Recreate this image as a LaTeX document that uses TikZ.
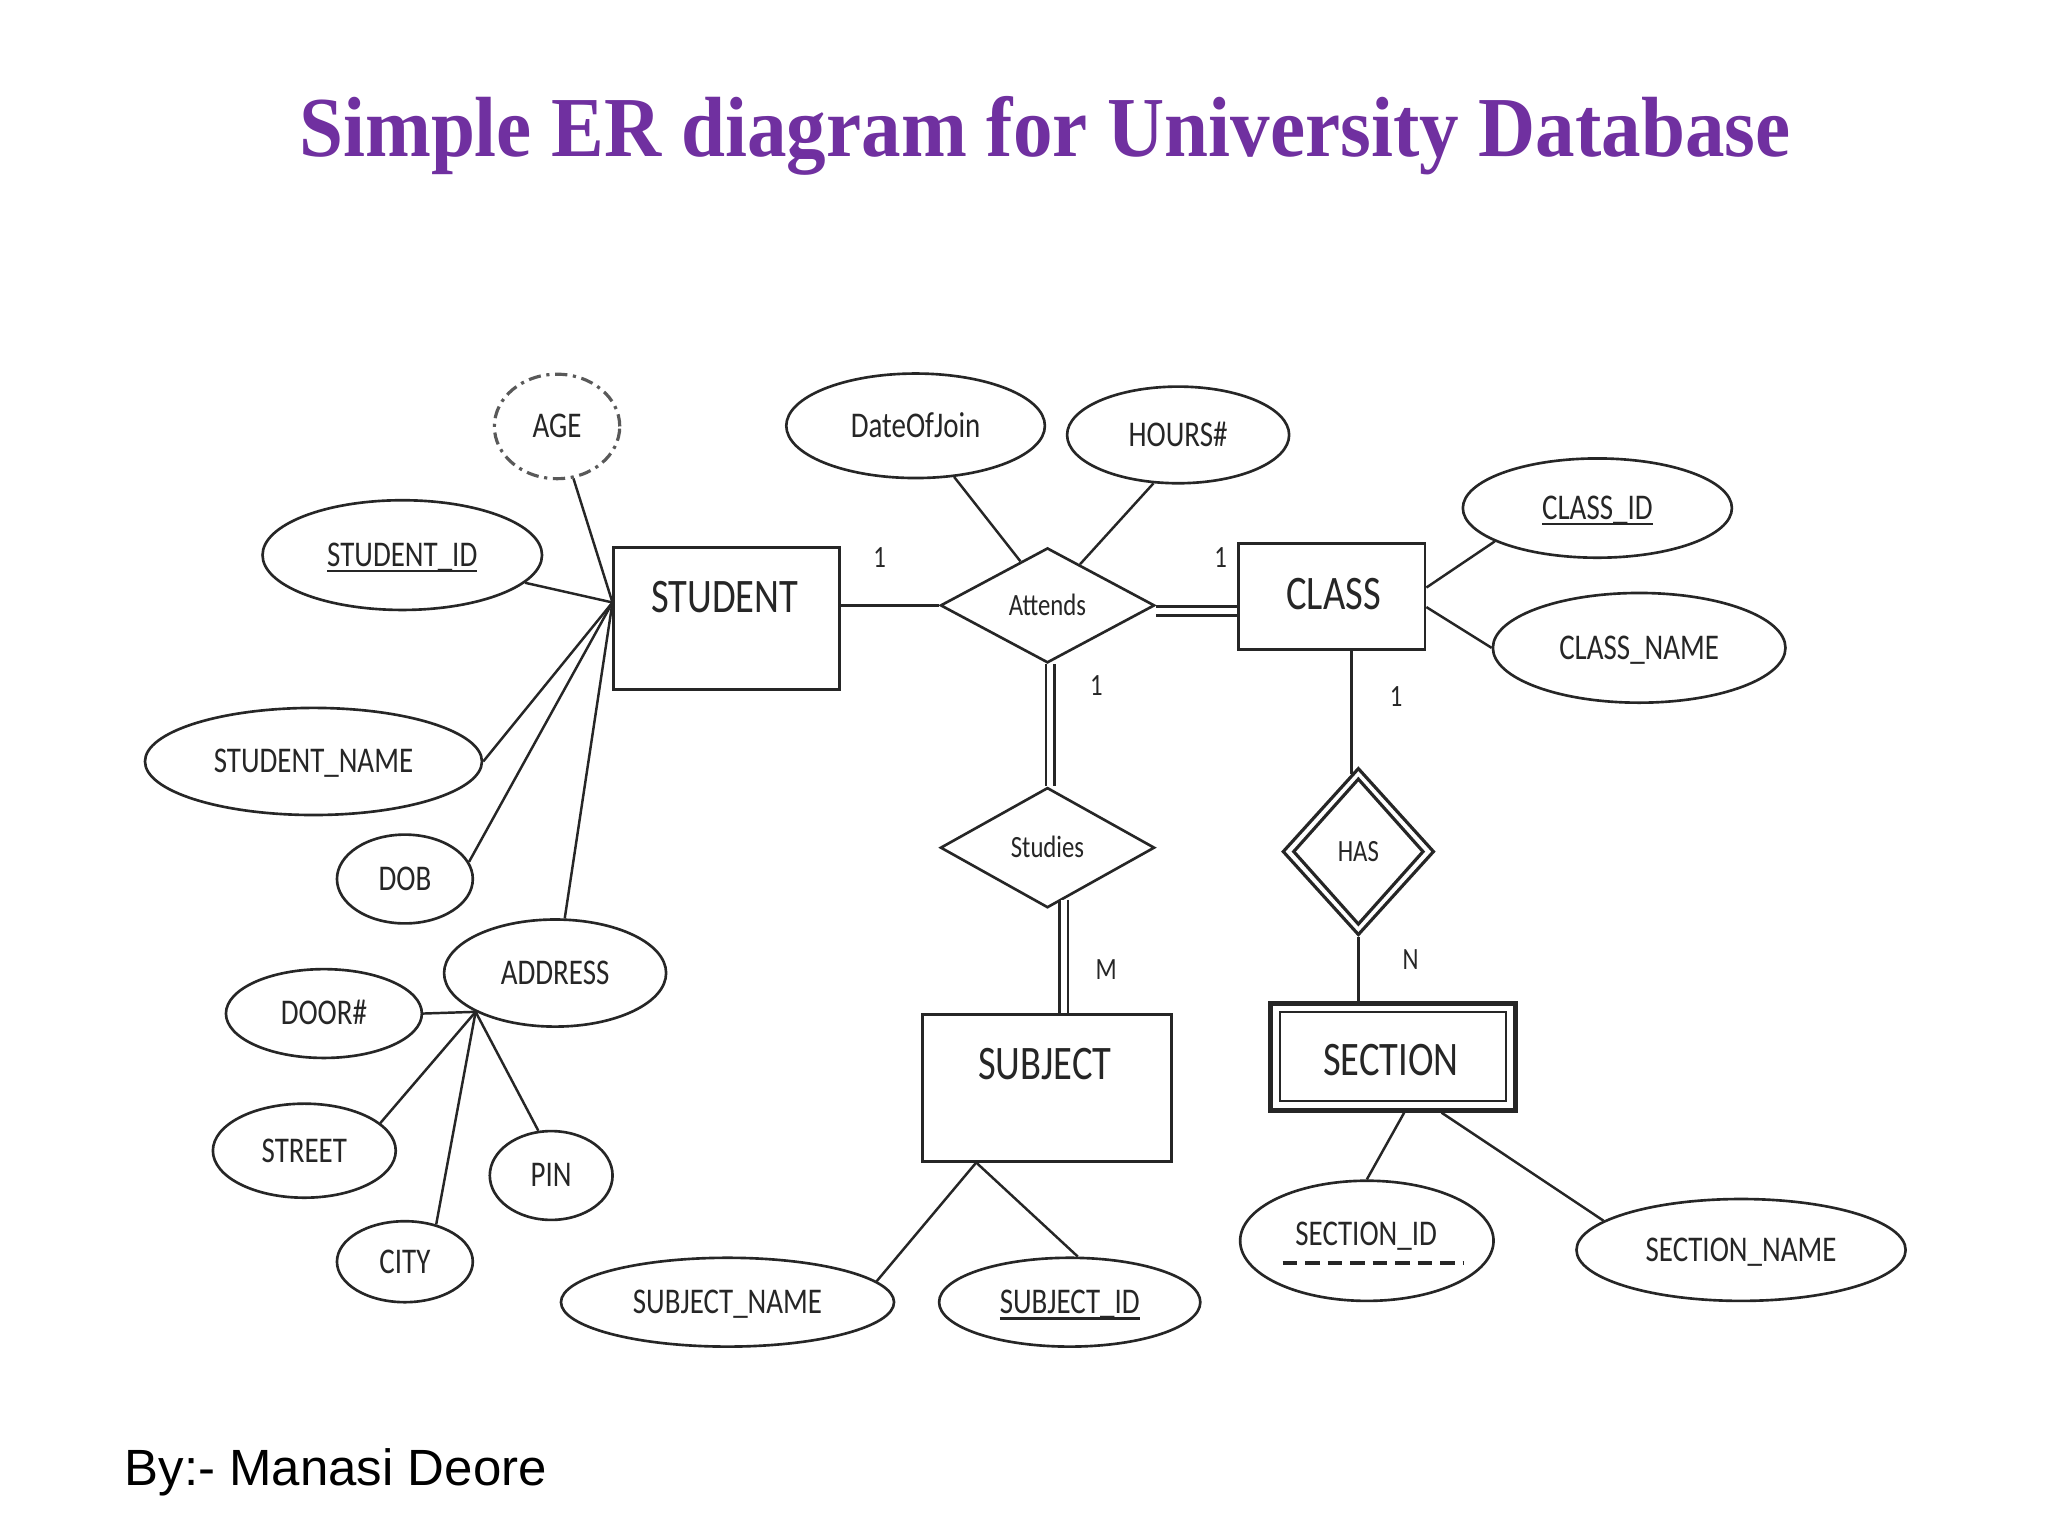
\documentclass[tikz,border=0pt]{standalone}
\usepackage{fontspec}
\usetikzlibrary{shapes.geometric,calc}
\newfontfamily\erfont[FakeStretch=0.8]{Carlito}
\newfontfamily\ttlfont{Liberation Serif}
\newfontfamily\authfont{Liberation Sans}
\definecolor{ttlpurple}{HTML}{7030A0}
\newdimen\pxu \pxu=0.01306cm
\newcommand\idline[1]{{\setbox0\hbox{#1}\rlap{\rule[-1.7pt]{\wd0}{0.6pt}}\box0}}
\begin{document}
\begin{tikzpicture}[x=0.01306cm, y=-0.01306cm,
  ln/.style={line width=0.7pt, draw=black!85},
  attr/.style={ellipse, draw=black!85, line width=0.75pt, inner sep=0pt,
    font=\erfont\fontsize{10.3}{12}\selectfont, text height=6.5pt, text depth=0pt, text=black!85},
  attrtext/.style={inner sep=0pt, font=\erfont\fontsize{10.3}{12}\selectfont, text height=6.5pt, text depth=0pt, text=black!85},
  entity/.style={rectangle, draw=black!85, line width=0.8pt, inner sep=0pt},
  etext/.style={font=\erfont\fontsize{13.7}{16}\selectfont, inner sep=0pt, text height=8.66pt, text depth=0pt, text=black!85},
  rel/.style={diamond, draw=black!85, line width=0.75pt, inner sep=0pt,
    font=\erfont\fontsize{8.8}{10}\selectfont, text height=5.56pt, text depth=0pt, text=black!85},
  card/.style={font=\erfont\fontsize{8.8}{10}\selectfont, inner sep=0pt, text=black!85},
  dbl/.style={draw=black!85, line width=0.7pt, double=white, double distance=1.8pt},
]
\fill[white] (0,0) rectangle (1568,1176);
\useasboundingbox (0,0) rectangle (1568,1176);

% title and author
\node[font=\ttlfont\bfseries\fontsize{22.5}{26}\selectfont, text=ttlpurple, anchor=base, inner sep=0pt] (title) at (800,120) {\scalebox{1}[1.08]{Simple ER diagram for University Database}};
\node[font=\authfont\fontsize{14.5}{17}\selectfont, anchor=base west, inner sep=0pt] (author) at (95,1137) {By:- Manasi Deore};

% STUDENT and its attributes
\node[entity, minimum width=173\pxu, minimum height=109\pxu] (student) at (556.5,473.5) {};
\node[etext] (studentT) at (555,457) {STUDENT};
\node[attr, draw=black!65, line width=0.9pt, dash pattern=on 3.5pt off 1.6pt on 0.9pt off 1.6pt,
  minimum width=96\pxu, minimum height=80\pxu] (age) at (426.5,326.5) {AGE};
\node[attr, minimum width=214\pxu, minimum height=84\pxu] (sid) at (308,425) {\idline{STUDENT\_ID}};
\node[attr, minimum width=258\pxu, minimum height=82\pxu] (sname) at (240,583) {STUDENT\_NAME};
\node[attr, minimum width=104\pxu, minimum height=68\pxu] (dob) at (310,673) {DOB};
\node[attr, minimum width=170\pxu, minimum height=82\pxu] (address) at (425,745) {ADDRESS};
\node[attr, minimum width=150\pxu, minimum height=68\pxu] (door) at (248,776) {DOOR\#};
\node[attr, minimum width=140\pxu, minimum height=72\pxu] (street) at (233,881) {STREET};
\node[attr, minimum width=94\pxu, minimum height=68\pxu] (pin) at (422,900) {PIN};
\node[attr, minimum width=104\pxu, minimum height=62\pxu] (city) at (310,966) {CITY};

% Attends
\node[rel, minimum width=164\pxu, minimum height=88\pxu] (attends) at (802,463.5) {Attends};
\node[attr, minimum width=198\pxu, minimum height=80\pxu] (doj) at (701,326) {DateOfJoin};
\node[attr, minimum width=170\pxu, minimum height=74\pxu] (hours) at (902,333) {HOURS\#};

% CLASS
\node[entity, minimum width=143\pxu, minimum height=81\pxu] (class) at (1019.5,456.5) {};
\node[etext] (classT) at (1021,455) {CLASS};
\node[attr, minimum width=206\pxu, minimum height=76\pxu] (cid) at (1223,389) {\idline{CLASS\_ID}};
\node[attr, minimum width=224\pxu, minimum height=84\pxu] (cname) at (1255,496) {CLASS\_NAME};

% Studies and SUBJECT
\node[rel, minimum width=164\pxu, minimum height=92\pxu] (studies) at (802,649) {Studies};
\node[entity, minimum width=191\pxu, minimum height=112\pxu] (subject) at (801.5,833) {};
\node[etext] (subjectT) at (800,815) {SUBJECT};
\node[attr, minimum width=255\pxu, minimum height=68\pxu] (subname) at (557,997) {SUBJECT\_NAME};
\node[attr, minimum width=200\pxu, minimum height=68\pxu] (subid) at (819,997) {\idline{SUBJECT\_ID}};

% HAS and SECTION
\node[rel, line width=0.9pt, minimum width=116\pxu, minimum height=128\pxu] (has) at (1040,652) {HAS};
\node[diamond, draw=black!85, line width=0.9pt, inner sep=0pt, minimum width=100\pxu, minimum height=112\pxu] (hasin) at (has.center) {};
\node[entity, line width=1.4pt, minimum width=187\pxu, minimum height=82\pxu] (section) at (1066.5,809) {};
\node[entity, line width=0.7pt, minimum width=173\pxu, minimum height=68\pxu] (sectionin) at (section.center) {};
\node[etext] (sectionT) at (1065,812) {SECTION};
\node[attr, minimum width=194\pxu, minimum height=92\pxu] (secid) at (1046.5,950) {};
\node[attrtext] (secidT) at (1046,945) {SECTION\_ID};
\draw[line width=1pt, draw=black!85, dash pattern=on 4.2pt off 2.2pt]
  ([shift={(-64.5,16.8)}]secid.center) -- ([shift={(74.5,16.8)}]secid.center);
\node[attr, minimum width=252\pxu, minimum height=78\pxu] (secname) at (1333,957) {SECTION\_NAME};

% cardinalities
\node[card] (c1) at (673.5,427) {1};
\node[card] (c2) at (934.5,427) {1};
\node[card] (c3) at (839.5,525) {1};
\node[card] (c4) at (1069,533) {1};
\node[card] (cm) at (847,742) {M};
\node[card] (cn) at (1080,735) {N};

% connectors: STUDENT attributes
\coordinate (sj) at ($(student.north west)!0.39!(student.south west)$);
\draw[ln] (age) -- (sj);
\draw[ln] (sid) -- (sj);
\draw[ln] (sname.east) -- (sj);
\draw[ln] (dob.15) -- (sj);
\draw[ln] (address.80) -- (sj);
\coordinate (aj) at (address.206);
\draw[ln] (door.east) -- (aj);
\draw[ln] (street.20) -- (aj);
\draw[ln] (city.50) -- (aj);
\draw[ln] (pin.106) -- (aj);

% relationships
\draw[ln] (student.east |- attends.west) -- (attends.west);
\coordinate (ae) at ([yshift=-4.3\pxu]attends.east);
\draw[dbl] (ae) -- (ae -| class.west);
\draw[ln] (doj.-53) -- ($(attends.west)!0.75!(attends.north)$);
\draw[ln] (hours.243) -- ($(attends.north)!0.3!(attends.east)$);
\draw[ln] ($(class.north east)!0.42!(class.south east)$) -- (cid.198);
\draw[ln] ($(class.north east)!0.6!(class.south east)$) -- (cname.west);
\draw[dbl] ([xshift=2\pxu]attends.south) -- ([xshift=2\pxu]studies.north);
\coordinate (s1) at ($(studies.south)!0.15!(studies.east)$);
\draw[dbl] (s1) -- (s1 |- subject.north);
\coordinate (sb) at ($(subject.south west)!0.22!(subject.south east)$);
\draw[ln] (sb) -- (subname.8);
\draw[ln] (sb) -- (subid.80);
\coordinate (h1) at ($(has.north)!0.086!(has.west)$);
\draw[ln] (h1) -- (h1 |- class.south);
\draw[ln] (has.south) -- (has.south |- section.north);
\draw[ln] ($(section.south west)!0.545!(section.south east)$) -- (secid.north);
\draw[ln] ($(section.south west)!0.695!(section.south east)$) -- (secname.168);
\end{tikzpicture}
\end{document}
